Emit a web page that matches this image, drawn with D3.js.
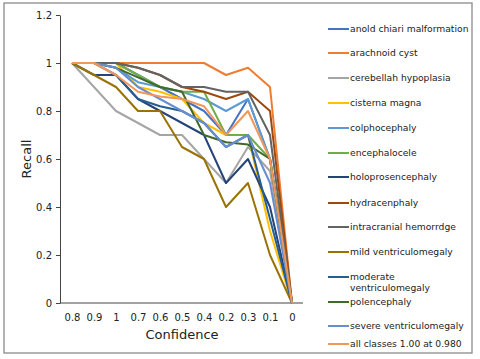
<!DOCTYPE html>
<html>
<head>
<meta charset="utf-8">
<script src="https://d3js.org/d3.v7.min.js"></script>
<style>
body { margin: 0; background: #fff; }
text { font-family: "DejaVu Sans", Verdana, sans-serif; fill: #222; }
.axis path, .axis line { stroke: #444; }
</style>
</head>
<body>
<svg width="480" height="359"></svg>
<script>

var categories = ["0.8", "0.9", "1", "0.7", "0.6", "0.5", "0.4", "0.2", "0.3", "0.1", "0"];

var names = ["anold chiari malformation", "arachnoid cyst", "cerebellah hypoplasia", "cisterna magna",
  "colphocephaly", "encephalocele", "holoprosencephaly", "hydracenphaly", "intracranial hemorrdge",
  "mild ventriculomegaly", "moderate ventriculomegaly", "polencephaly", "severe ventriculomegaly",
  "all classes 1.00 at 0.980"];

var colors = ["#4472c4", "#ed7d31", "#a5a5a5", "#ffc000", "#5b9bd5", "#70ad47", "#264478",
  "#9e480e", "#636363", "#997300", "#255e91", "#43682b", "#698ed0", "#f1975a"];

var anold      = [1, 1, 1, 0.95, 0.9, 0.85, 0.8, 0.7, 0.85, 0.6, 0];
var arachnoid  = [1, 1, 1, 1, 1, 1, 1, 0.95, 0.98, 0.9, 0];
var cerebellah = [1, 0.9, 0.8, 0.75, 0.7, 0.7, 0.6, 0.5, 0.65, 0.55, 0];
var cisterna   = [1, 1, 1, 0.9, 0.88, 0.85, 0.75, 0.7, 0.7, 0.3, 0];
var colpho     = [1, 1, 0.98, 0.92, 0.9, 0.88, 0.85, 0.8, 0.85, 0.6, 0];
var encephalo  = [1, 1, 1, 0.95, 0.9, 0.88, 0.88, 0.7, 0.7, 0.6, 0];
var holopros   = [1, 0.95, 0.95, 0.85, 0.8, 0.75, 0.7, 0.5, 0.6, 0.4, 0];
var hydra      = [1, 1, 1, 0.98, 0.95, 0.9, 0.88, 0.85, 0.88, 0.8, 0];
var intracran  = [1, 1, 1, 0.98, 0.95, 0.9, 0.9, 0.88, 0.88, 0.7, 0];
var mild       = [1, 0.95, 0.9, 0.8, 0.8, 0.65, 0.6, 0.4, 0.5, 0.2, 0];
var moderate   = [1, 1, 0.95, 0.85, 0.82, 0.8, 0.75, 0.65, 0.7, 0.35, 0];
var polence    = [1, 1, 0.98, 0.94, 0.9, 0.88, 0.7, 0.67, 0.66, 0.6, 0];
var severe     = [1, 1, 0.98, 0.9, 0.85, 0.8, 0.75, 0.65, 0.7, 0.5, 0];
var allClasses = [1, 1, 0.95, 0.88, 0.86, 0.85, 0.82, 0.7, 0.8, 0.6, 0];

var yTicks = [0, 0.2, 0.4, 0.6, 0.8, 1, 1.2];

var seriesValues = [anold, arachnoid, cerebellah, cisterna, colpho, encephalo, holopros,
  hydra, intracran, mild, moderate, polence, severe, allClasses];

var series = names.map(function(n, i) {
  return { name: n, color: colors[i], values: seriesValues[i] };
});

var svg = d3.select("svg"),
    margin = {top: 15, right: 177, bottom: 56, left: 61},
    width = +svg.attr("width"),
    height = +svg.attr("height");

// outer frame
svg.append("rect")
  .attr("x", 4).attr("y", 3).attr("width", 468).attr("height", 350)
  .attr("fill", "none").attr("stroke", "#8a8a8a").attr("stroke-width", 1.3);

var x = d3.scalePoint()
  .domain(d3.range(categories.length))
  .range([margin.left + 11, width - margin.right - 11]);

var y = d3.scaleLinear()
  .domain([0, 1.2])
  .range([height - margin.bottom, margin.top]);

svg.append("g")
  .attr("class", "axis")
  .attr("transform", "translate(" + (margin.left - 1) + ",0)")
  .call(d3.axisLeft(y).tickValues(yTicks).tickFormat(d3.format("~g")).tickSize(4).tickSizeOuter(0).tickPadding(4))
  .call(function(g) { g.selectAll("text").style("font-size", "10px"); });

var xa = svg.append("g")
  .attr("class", "axis")
  .attr("transform", "translate(0," + (height - margin.bottom) + ")")
  .call(d3.axisBottom(x).tickFormat(function(i) { return categories[i]; }).tickSize(0).tickPadding(11));
xa.select(".domain").attr("d", "M" + (margin.left - 1) + ",0H" + (width - margin.right));
xa.selectAll("text").style("font-size", "10px");

var line = d3.line()
  .x(function(d, i) { return x(i); })
  .y(function(d) { return y(d); });

svg.append("g")
  .selectAll("path")
  .data(series)
  .enter().append("path")
  .attr("d", function(d) { return line(d.values); })
  .attr("fill", "none")
  .attr("stroke", function(d) { return d.color; })
  .attr("stroke-width", 2)
  .attr("stroke-linejoin", "round");

svg.append("text")
  .attr("transform", "translate(31," + (y(0.6)) + ") rotate(-90)")
  .attr("text-anchor", "middle")
  .style("font-size", "13px")
  .text("Recall");

svg.append("text")
  .attr("x", (margin.left + width - margin.right) / 2)
  .attr("y", 339)
  .attr("text-anchor", "middle")
  .style("font-size", "13px")
  .text("Confidence");

// legend
var legendY = [29, 53, 78, 103, 128, 153, 177, 203, 227, 252, 277, 302, 326, 344];
var lg = svg.append("g").selectAll("g")
  .data(series)
  .enter().append("g")
  .attr("transform", function(d, i) { return "translate(328," + legendY[i] + ")"; });

lg.append("line")
  .attr("x1", 0).attr("x2", 21)
  .attr("stroke", function(d) { return d.color; })
  .attr("stroke-width", 2);

lg.append("text")
  .attr("x", 22)
  .attr("dy", "0.35em")
  .style("font-size", "9.2px")
  .each(function(d) {
    var t = d3.select(this);
    if (d.name === "moderate ventriculomegaly") {
      t.append("tspan").attr("x", 22).text("moderate");
      t.append("tspan").attr("x", 22).attr("dy", "1.2em").text("ventriculomegaly");
    } else {
      t.text(d.name);
    }
  });
</script>
</body>
</html>
